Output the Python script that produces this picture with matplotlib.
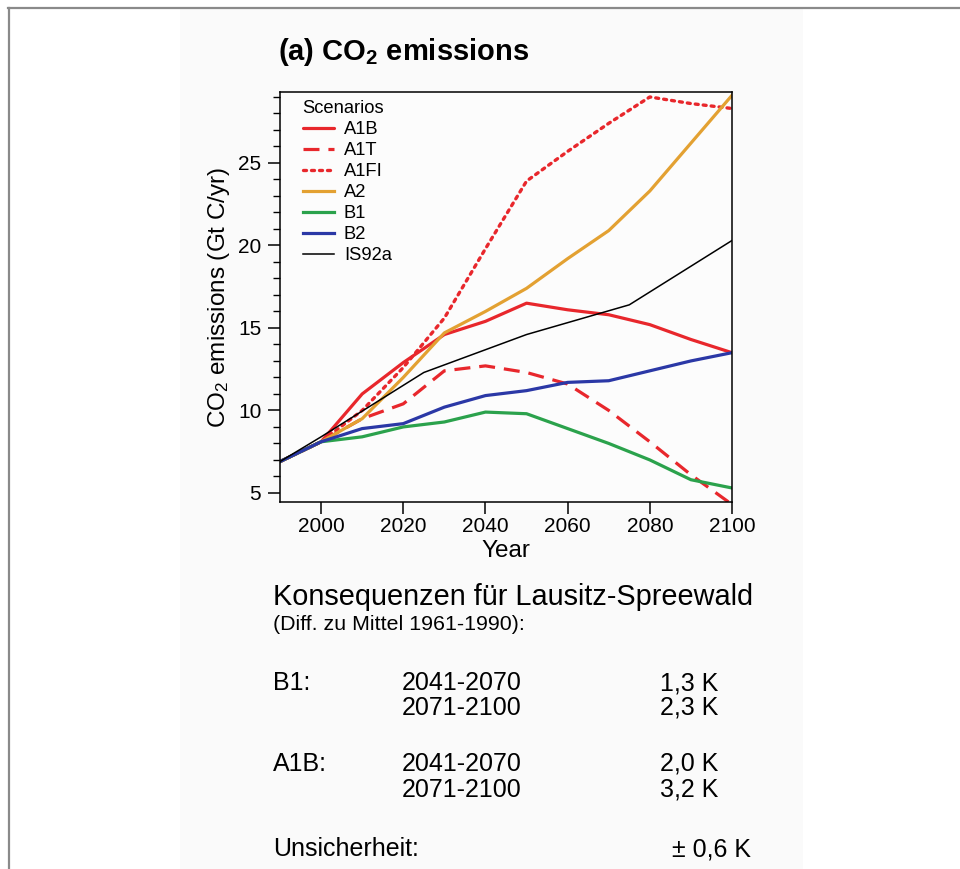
import matplotlib
matplotlib.use("Agg")
import matplotlib.pyplot as plt
from matplotlib.patches import Rectangle
from matplotlib.lines import Line2D
from matplotlib.ticker import MultipleLocator

plt.rcParams['font.family'] = ['Liberation Sans', 'DejaVu Sans']
plt.rcParams['mathtext.default'] = 'regular'

# ---- data ----
years = [1990, 2000, 2010, 2020, 2030, 2040, 2050, 2060, 2070, 2080, 2090, 2100]
a1b = [6.9, 8.1, 11.0, 12.9, 14.6, 15.4, 16.5, 16.1, 15.8, 15.2, 14.3, 13.5]
a1t = [6.9, 8.1, 9.5, 10.4, 12.4, 12.7, 12.3, 11.6, 10.0, 8.1, 6.1, 4.3]
a1fi = [6.9, 8.1, 10.0, 12.6, 15.6, 19.8, 23.9, 25.7, 27.4, 29.0, 28.6, 28.3]
a2 = [6.9, 8.1, 9.5, 12.0, 14.7, 16.0, 17.4, 19.2, 20.9, 23.3, 26.2, 29.1]
b1 = [6.9, 8.1, 8.4, 9.0, 9.3, 9.9, 9.8, 8.9, 8.0, 7.0, 5.8, 5.3]
b2 = [6.9, 8.1, 8.9, 9.2, 10.2, 10.9, 11.2, 11.7, 11.8, 12.4, 13.0, 13.5]
is92a_years = [1990, 2000, 2025, 2050, 2075, 2100]
is92a = [6.9, 8.4, 12.3, 14.6, 16.4, 20.3]

xticks = [2000, 2020, 2040, 2060, 2080, 2100]
yticks = [5, 10, 15, 20, 25]

rows = [
    ("B1:", "2041-2070", "1,3 K"),
    ("", "2071-2100", "2,3 K"),
    ("A1B:", "2041-2070", "2,0 K"),
    ("", "2071-2100", "3,2 K"),
]

RED = '#e8272c'
ORANGE = '#e3a132'
GREEN = '#2ba24c'
BLUE = '#2b38a6'

W, H = 960, 869
fig = plt.figure(figsize=(W / 100, H / 100), dpi=100)
fig.patch.set_facecolor('white')

def fx(px):
    return px / W

def fy(py):
    return 1 - py / H

# background panel and frame
fig.add_artist(Rectangle((fx(180), 0), fx(803) - fx(180), fy(9), transform=fig.transFigure,
                         facecolor='#fafafa', edgecolor='none', zorder=0))
fig.add_artist(Line2D([fx(8), 1], [fy(7.5), fy(7.5)], transform=fig.transFigure, color='#8a8a8a', lw=1.6))
fig.add_artist(Line2D([fx(8.5), fx(8.5)], [0, fy(7.5)], transform=fig.transFigure, color='#8a8a8a', lw=1.6))

ax = fig.add_axes([fx(280), fy(502), fx(732) - fx(280), fy(92) - fy(502)])
ax.set_facecolor('#fcfcfc')

ax.plot(years, a1b, color=RED, lw=2.3, label='A1B', solid_capstyle='round')
ax.plot(years, a1t, color=RED, lw=2.3, ls=(0, (5, 2.8)), label='A1T')
ax.plot(years, a1fi, color=RED, lw=2.4, ls=(0, (0.9, 1.5)), dash_capstyle='round', label='A1FI')
ax.plot(years, a2, color=ORANGE, lw=2.3, label='A2')
ax.plot(years, b1, color=GREEN, lw=2.3, label='B1')
ax.plot(years, b2, color=BLUE, lw=2.3, label='B2')
ax.plot(is92a_years, is92a, color='black', lw=1.1, label='IS92a')

ax.set_xlim(1990, 2100)
ax.set_ylim(4.45, 29.3)
ax.set_xticks(xticks)
ax.set_yticks(yticks)
ax.yaxis.set_minor_locator(MultipleLocator(1))
ax.tick_params(axis='both', which='major', labelsize=15, length=8.5, width=1.1, direction='out')
ax.tick_params(axis='y', which='minor', length=5, width=1.0, direction='out')
ax.tick_params(axis='x', pad=2)
ax.tick_params(axis='y', pad=5)
for s in ax.spines.values():
    s.set_linewidth(1.1)

ax.set_xlabel('Year', fontsize=17.5, labelpad=3)
ax.set_ylabel('CO$_2$ emissions (Gt C/yr)', fontsize=17.5, labelpad=4)

leg = ax.legend(title='Scenarios', loc='upper left', bbox_to_anchor=(0.05, 0.98),
                frameon=False, fontsize=13.2, title_fontsize=13.2, alignment='left',
                labelspacing=0.22, handlelength=1.7, handletextpad=0.55,
                borderpad=0, borderaxespad=0)

# title
fig.text(fx(278), fy(52), '(a) CO$_2$ emissions', fontsize=21, fontweight='bold',
         va='center', ha='left')

# text block
fig.text(fx(273), fy(597), 'Konsequenzen für Lausitz-Spreewald', fontsize=20.8, va='center', ha='left')
fig.text(fx(273), fy(625), '(Diff. zu Mittel 1961-1990):', fontsize=15.4, va='center', ha='left')
row_y = [683, 708, 764, 790]
for (lab, per, val), yy in zip(rows, row_y):
    if lab:
        fig.text(fx(273), fy(yy), lab, fontsize=18, va='center', ha='left')
    fig.text(fx(402), fy(yy), per, fontsize=18, va='center', ha='left')
    fig.text(fx(718), fy(yy), val, fontsize=18, va='center', ha='right')
fig.text(fx(273), fy(849), 'Unsicherheit:', fontsize=18, va='center', ha='left')
fig.text(fx(751), fy(849), '± 0,6 K', fontsize=18, va='center', ha='right')

fig.savefig('out.png', dpi=100, facecolor='white')
